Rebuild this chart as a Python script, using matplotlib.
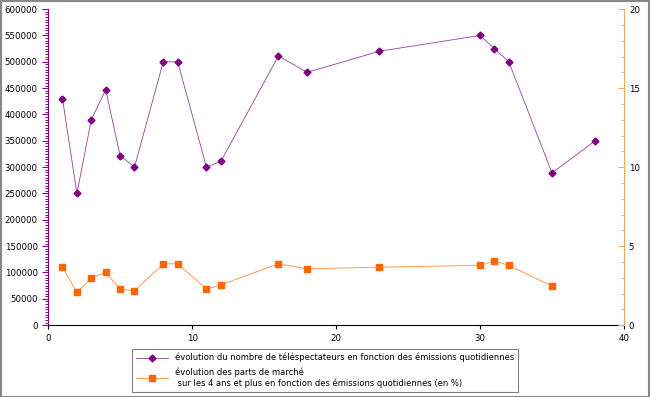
import matplotlib
matplotlib.use("Agg")
import matplotlib.pyplot as plt
from matplotlib.ticker import MultipleLocator
from matplotlib.patches import Rectangle

# daily broadcasts (x) - viewers (left axis) and market share % (right axis)
emissions_viewers = [1, 2, 3, 4, 5, 6, 8, 9, 11, 12, 16, 18, 23, 30, 31, 32, 35, 38]
viewers = [430000, 250000, 390000, 447000, 322000, 300000, 500000, 500000,
           300000, 311000, 511000, 480000, 520000, 550000, 525000, 500000,
           289000, 350000]

emissions_share = [1, 2, 3, 4, 5, 6, 8, 9, 11, 12, 16, 18, 23, 30, 31, 32, 35]
share = [3.67, 2.07, 2.97, 3.35, 2.28, 2.17, 3.88, 3.88, 2.28, 2.55, 3.88,
         3.56, 3.67, 3.78, 4.07, 3.78, 2.47]

label_viewers = "évolution du nombre de téléspectateurs en fonction des émissions quotidiennes"
label_share = "évolution des parts de marché\n sur les 4 ans et plus en fonction des émissions quotidiennes (en %)"

purple = "#800080"
orange = "#ff6600"

fig = plt.figure(figsize=(6.5, 3.97), dpi=100)
ax = fig.add_axes([0.074, 0.181, 0.886, 0.796])
ax2 = ax.twinx()

l1, = ax.plot(emissions_viewers, viewers, color="#93409a", lw=0.6, marker="D",
              ms=3.5, mfc=purple, mec=purple, label=label_viewers)
l2, = ax2.plot(emissions_share, share, color="#ff9950", lw=0.7, marker="s",
               ms=4.5, mfc=orange, mec=orange, label=label_share)

ax.set_xlim(0, 40)
ax.set_ylim(0, 600000)
ax2.set_ylim(0, 20)
ax.xaxis.set_major_locator(MultipleLocator(10))
ax.yaxis.set_major_locator(MultipleLocator(50000))
ax.yaxis.set_minor_locator(MultipleLocator(5000))
ax2.yaxis.set_major_locator(MultipleLocator(5))
ax2.yaxis.set_minor_locator(MultipleLocator(1))

for a in (ax, ax2):
    a.spines["top"].set_visible(False)
ax.spines["right"].set_visible(False)
ax2.spines["left"].set_visible(False)
ax2.spines["bottom"].set_visible(False)
ax.spines["left"].set_color(purple)
ax2.spines["right"].set_color("#f4a460")
ax.spines["bottom"].set_color("black")

ax.tick_params(axis="y", which="major", colors=purple, labelcolor="black",
               direction="out", length=4, width=0.8, labelsize=6.2)
ax.tick_params(axis="y", which="minor", colors=purple, direction="out",
               length=2.2, width=0.7)
ax.tick_params(axis="x", labelsize=6.2, length=3, width=0.8)
ax2.tick_params(axis="y", which="major", colors="#f4a460", labelcolor="black",
                direction="in", length=4, width=0.7, labelsize=6.2)
ax2.tick_params(axis="y", which="minor", colors="#f4a460", direction="in",
                length=2, width=0.6)

leg = fig.legend(handles=[l1, l2], loc="upper center",
                 bbox_to_anchor=(0.5, 0.132), fontsize=6.05, frameon=True,
                 fancybox=False, edgecolor="#808080", framealpha=1,
                 handlelength=3.8, borderpad=0.5, labelspacing=0.6)
leg.get_frame().set_linewidth(0.8)

fig.patches.append(Rectangle((0.001, 0.001), 0.998, 0.996, transform=fig.transFigure,
                             fill=False, edgecolor="#888888", lw=1.5))

fig.savefig("out.png", dpi=100)
